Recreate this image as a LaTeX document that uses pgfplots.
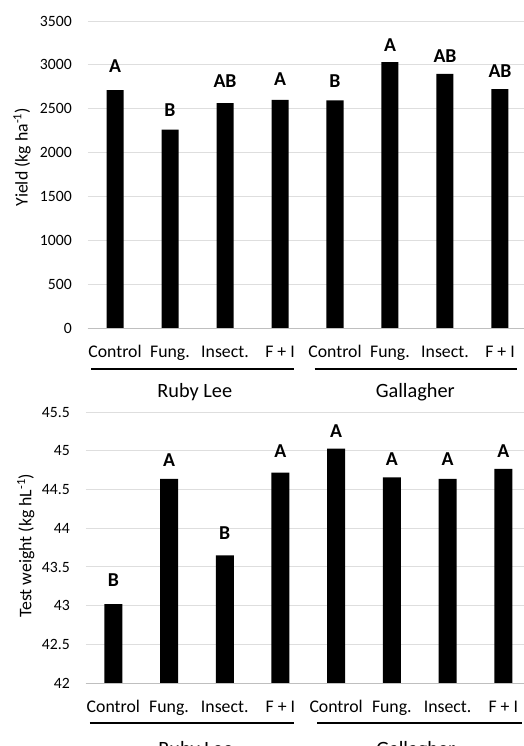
\documentclass[border=0pt]{standalone}
\usepackage{fontspec}
\setmainfont{Carlito}
\usepackage{pgfplots}
\pgfplotsset{compat=1.18}
\pgfplotsset{
  mybar/.style={
    scale only axis,
    xmin=-0.5, xmax=7.5,
    xtick={0,...,7},
    xticklabels={Control, Fung., Insect., F + I, Control, Fung., Insect., F + I},
    ymajorgrids,
    major grid style={draw=black!13, line width=1pt},
    axis line style={draw=none},
    major tick length=0pt,
    clip=false,
    /pgf/number format/assume math mode=true,
    /pgf/number format/1000 sep={},
    xticklabel style={font=\fontsize{17.75}{20}\selectfont, anchor=base, inner sep=0pt, yshift=-29pt},
    yticklabel style={font=\fontsize{15.7}{18}\selectfont, anchor=east, inner sep=0pt, xshift=-15.5pt},
    nodes near coords style={font=\bfseries\fontsize{19.7}{22}\selectfont, anchor=base, inner sep=0pt},
  },
}
\begin{document}
\begin{tikzpicture}
\useasboundingbox (0,0) rectangle (524pt,-746pt);
\begin{axis}[mybar,
  at={(87.5pt,-328.3pt)}, anchor=south west,
  width=440pt, height=307.3pt,
  ymin=0, ymax=3500, ytick={0,500,...,3500},
  ylabel={Yield (kg ha\textsuperscript{-1})},
  ylabel style={at={(axis description cs:-0.149,0.557)}, anchor=center, font=\fontsize{17.75}{20}\selectfont},
]
\addplot[ybar, bar width=17pt, fill=black, draw=none] coordinates {
  (0,2713) (1,2264) (2,2565) (3,2603) (4,2595) (5,3033) (6,2899) (7,2725)};
\addplot[draw=none, nodes near coords, point meta=explicit symbolic] table[meta=lab] {
x y lab
0 2919 A
1 2407 B
2 2737 AB
3 2771 A
4 2737 B
5 3147 A
6 3033 AB
7 2851 AB
};
\draw[black!25, line width=1pt] (axis cs:-0.5,0) -- (axis cs:7.5,0);
\draw[line width=2.6pt] ([yshift=-40.5pt]axis cs:-0.43,0) -- ([yshift=-40.5pt]axis cs:3.26,0);
\draw[line width=2.6pt] ([yshift=-40.5pt]axis cs:3.63,0) -- ([yshift=-40.5pt]axis cs:7.31,0);
\node[font=\fontsize{20.3}{23}\selectfont, anchor=base] at ([yshift=-69pt]axis cs:1.45,0) {Ruby Lee};
\node[font=\fontsize{20.3}{23}\selectfont, anchor=base] at ([yshift=-69pt]axis cs:5.46,0) {Gallagher};
\end{axis}

\begin{axis}[mybar,
  at={(85.5pt,-683pt)}, anchor=south west,
  width=445.6pt, height=270.7pt,
  ymin=42, ymax=45.5, ytick={42,42.5,...,45.5},
  ylabel={Test weight (kg hL\textsuperscript{-1})},
  ylabel style={at={(axis description cs:-0.134,0.507)}, anchor=center, font=\fontsize{17.75}{20}\selectfont},
]
\addplot[ybar, bar width=18pt, fill=black, draw=none] coordinates {
  (0,43.02) (1,44.64) (2,43.65) (3,44.72) (4,45.03) (5,44.66) (6,44.64) (7,44.77)};
\addplot[draw=none, nodes near coords, point meta=explicit symbolic] table[meta=lab] {
x y lab
0 43.25 B
1 44.80 A
2 43.85 B
3 44.91 A
4 45.18 A
5 44.81 A
6 44.81 A
7 44.91 A
};
\draw[black!25, line width=1pt] (axis cs:-0.5,42) -- (axis cs:7.5,42);
\draw[line width=2.6pt] ([yshift=-40pt]axis cs:-0.42,42) -- ([yshift=-40pt]axis cs:3.24,42);
\draw[line width=2.6pt] ([yshift=-40pt]axis cs:3.66,42) -- ([yshift=-40pt]axis cs:7.34,42);
\node[font=\fontsize{20.3}{23}\selectfont, anchor=base] at ([yshift=-72pt]axis cs:1.48,42) {Ruby Lee};
\node[font=\fontsize{20.3}{23}\selectfont, anchor=base] at ([yshift=-72pt]axis cs:5.43,42) {Gallagher};
\end{axis}
\end{tikzpicture}
\end{document}
